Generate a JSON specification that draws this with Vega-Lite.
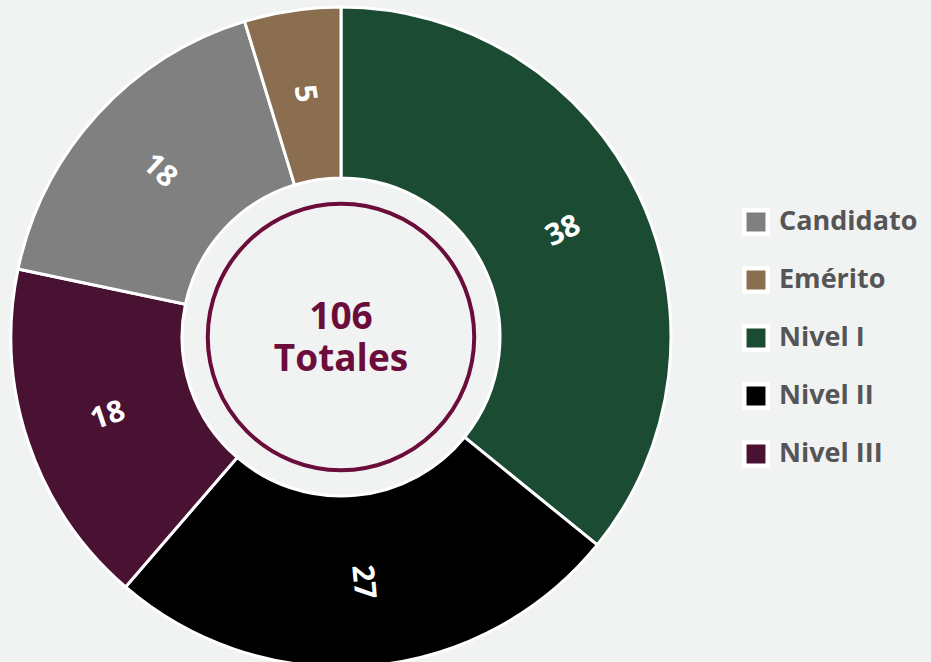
{
  "$schema": "https://vega.github.io/schema/vega-lite/v6.json",
  "width": 682,
  "height": 674,
  "padding": {"left": 0, "top": 0, "right": 249, "bottom": 0},
  "autosize": {"type": "none"},
  "background": "#f1f2f2",
  "config": {"view": {"stroke": null}, "font": "Open Sans"},
  "data": {
    "values": [
      {"categoria": "Nivel I", "valor": 38, "orden": 1},
      {"categoria": "Nivel II", "valor": 27, "orden": 2},
      {"categoria": "Nivel III", "valor": 18, "orden": 3},
      {"categoria": "Candidato", "valor": 18, "orden": 4},
      {"categoria": "Emérito", "valor": 5, "orden": 5}
    ]
  },
  "layer": [
    {
      "mark": {"type": "arc", "outerRadius": 330, "innerRadius": 159, "stroke": "#ffffff", "strokeWidth": 3},
      "encoding": {
        "theta": {"field": "valor", "type": "quantitative", "stack": true},
        "order": {"field": "orden", "type": "quantitative"},
        "color": {
          "field": "categoria",
          "type": "nominal",
          "scale": {
            "domain": ["Candidato", "Emérito", "Nivel I", "Nivel II", "Nivel III"],
            "range": ["#808080", "#8b6d4f", "#1b4b33", "#000000", "#4a1232"]
          },
          "legend": {
            "title": null,
            "orient": "none",
            "legendX": 742,
            "legendY": 208,
            "symbolType": "square",
            "symbolSize": 550,
            "symbolStrokeColor": "#ffffff",
            "symbolStrokeWidth": 4.5,
            "symbolOpacity": 1,
            "labelFont": "Open Sans",
            "labelFontSize": 27,
            "labelFontWeight": "bold",
            "labelColor": "#555555",
            "labelOffset": 9,
            "rowPadding": 16
          }
        }
      }
    },
    {
      "transform": [
        {"joinaggregate": [{"op": "sum", "field": "valor", "as": "total"}]},
        {"window": [{"op": "sum", "field": "valor", "as": "acum"}], "sort": [{"field": "orden"}], "frame": [null, 0]},
        {"calculate": "(datum.acum - datum.valor / 2) / datum.total * 360", "as": "medio"},
        {"calculate": "datum.medio - 90 > 90 ? datum.medio - 270 : datum.medio - 90", "as": "giro"}
      ],
      "mark": {"type": "text", "radius": 246, "fontSize": 30, "fontWeight": "bold", "color": "#ffffff", "font": "Open Sans"},
      "encoding": {
        "theta": {"field": "valor", "type": "quantitative", "stack": true},
        "order": {"field": "orden", "type": "quantitative"},
        "text": {"field": "valor", "type": "quantitative"},
        "angle": {"field": "giro", "type": "quantitative", "scale": null}
      }
    },
    {
      "data": {"values": [{"id": "centro"}]},
      "mark": {"type": "point", "shape": "circle", "filled": false, "size": 71000, "stroke": "#6b0d3a", "strokeWidth": 4, "opacity": 1},
      "encoding": {}
    },
    {
      "data": {"values": [{"id": "centro"}]},
      "mark": {"type": "text", "text": ["106", "Totales"], "fontSize": 37, "fontWeight": "bold", "color": "#6b0d3a", "font": "Open Sans", "lineHeight": 42, "baseline": "middle", "dy": -19},
      "encoding": {}
    }
  ]
}
